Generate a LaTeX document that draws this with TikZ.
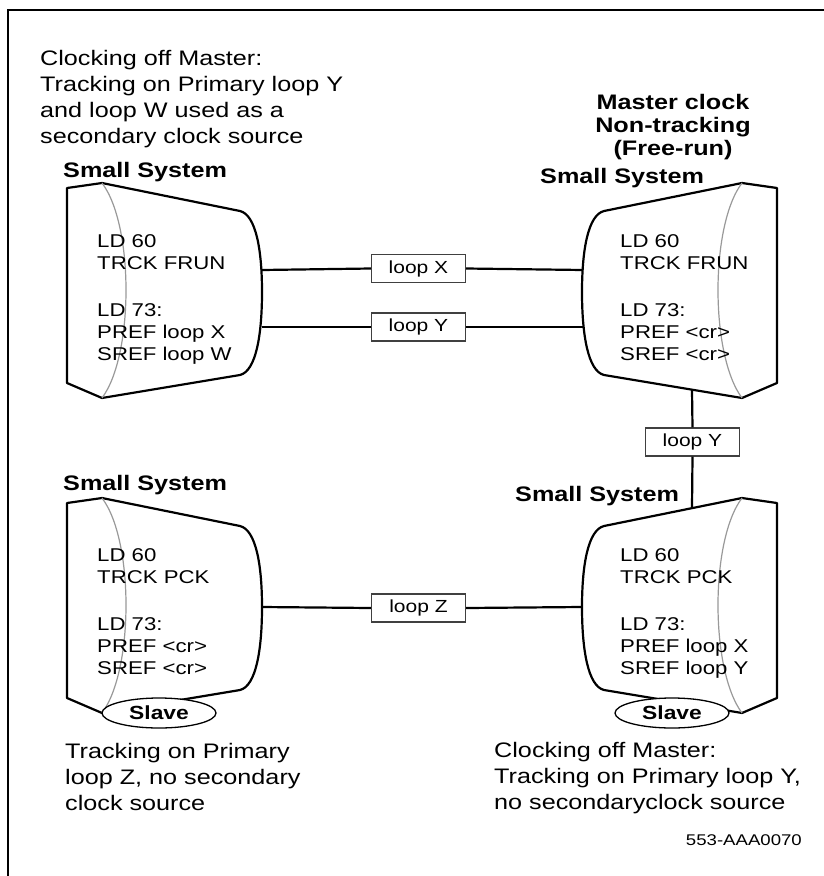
\documentclass[tikz,border=0pt]{standalone}
\usepackage{fontspec}
\setmainfont[FakeStretch=1.2]{Liberation Sans}
\usetikzlibrary{shapes.geometric}
\newcommand\drawmonitor[1]{%
  \begin{scope}[#1]
    \draw[shp] (67,503) -- (102,498) -- (240,526) .. controls (256,530) and (262,565) .. (262,607)
      .. controls (262,650) and (256,686) .. (240,690) -- (102,713) -- (67,698) -- cycle;
    \draw[grayarc] (102,498) .. controls (134,540) and (134,670) .. (102,713);
  \end{scope}}
\begin{document}
\begin{tikzpicture}[x=1pt,y=-1pt,
  shp/.style={line width=2.2pt, line join=round, fill=white},
  grayarc/.style={draw=black!40, line width=1.2pt},
  conn/.style={line width=2.2pt},
  loopbox/.style={draw=black!75, line width=1.3pt, fill=white, minimum width=94pt, minimum height=28pt, inner sep=0pt, font=\fontsize{17.5}{20}\selectfont},
  captext/.style={anchor=base west, inner sep=0pt, align=left, font=\fontsize{21}{26}\selectfont},
  ttl/.style={anchor=base west, inner sep=0pt, font=\fontsize{21}{23}\selectfont\bfseries},
  body/.style={anchor=base west, inner sep=0pt, align=left, font=\fontsize{18.5}{22}\selectfont},
  slave/.style={ellipse, draw, line width=1.3pt, fill=white, minimum width=114pt, minimum height=30pt, inner sep=0pt, font=\fontsize{19}{22}\selectfont\bfseries}
]
\useasboundingbox (0,0) rectangle (823,876);
% frame
\draw[line width=2.2pt] (8,880) -- (8,10) -- (830,10);

% shapes
\drawmonitor{shift={(0,-315)}}
\drawmonitor{}
\drawmonitor{shift={(844,-315)},xscale=-1}
\drawmonitor{shift={(844,0)},xscale=-1}

% connection points
\coordinate (tlx) at (262,270);
\coordinate (tly) at (262,327);
\coordinate (trx) at (583,270);
\coordinate (try) at (583,327);
\coordinate (trb) at (692,390);
\coordinate (brt) at (692,508);
\coordinate (blz) at (262,607);
\coordinate (brz) at (582,607);

% loop boxes
\node[loopbox] (loopX) at (418.5,268.5) {loop X};
\node[loopbox] (loopY) at (418.5,327) {loop Y};
\node[loopbox] (loopYv) at (692.5,442) {loop Y};
\node[loopbox] (loopZ) at (418.5,608) {loop Z};

\draw[conn] (tlx) -- (loopX.west);
\draw[conn] (loopX.east) -- (trx);
\draw[conn] (tly) -- (loopY.west);
\draw[conn] (loopY.east) -- (try);
\draw[conn] (trb) -- (loopYv.north);
\draw[conn] (loopYv.south) -- (brt);
\draw[conn] (blz) -- (loopZ.west);
\draw[conn] (loopZ.east) -- (brz);

% slave ellipses
\node[slave] (slaveL) at (159,713) {Slave};
\node[slave] (slaveR) at (672,713) {Slave};

% titles (multi-line nodes are placed at the baseline of their last line)
\node[captext] (capTL) at (40,143) {Clocking off Master:\\Tracking on Primary loop Y\\and loop W used as a\\secondary clock source};
\node[ttl] (ssTL) at (63,177) {Small System};
\node[ttl, anchor=base, align=center] (master) at (673,155) {Master clock\\Non-tracking\\(Free-run)};
\node[ttl] (ssTR) at (540,183) {Small System};
\node[ttl] (ssBL) at (63,490) {Small System};
\node[ttl] (ssBR) at (515,501) {Small System};

% body texts
\node[body] (bTL) at (97,360) {LD 60\\TRCK FRUN\\[25pt]LD 73:\\PREF loop X\\SREF loop W};
\node[body] (bTR) at (620,360) {LD 60\\TRCK FRUN\\[25pt]LD 73:\\PREF <cr>\\SREF <cr>};
\node[body] (bBL) at (97,674) {LD 60\\TRCK PCK\\[25pt]LD 73:\\PREF <cr>\\SREF <cr>};
\node[body] (bBR) at (620,674) {LD 60\\TRCK PCK\\[25pt]LD 73:\\PREF loop X\\SREF loop Y};

% captions
\node[captext] (capBL) at (65,810) {Tracking on Primary\\loop Z, no secondary\\clock source};
\node[captext] (capBR) at (494,809) {Clocking off Master:\\Tracking on Primary loop Y,\\no secondaryclock source};
\node[anchor=base east, inner sep=0pt, font=\fontsize{15.5}{18}\selectfont] (code) at (802,845) {553-AAA0070};
\end{tikzpicture}
\end{document}
